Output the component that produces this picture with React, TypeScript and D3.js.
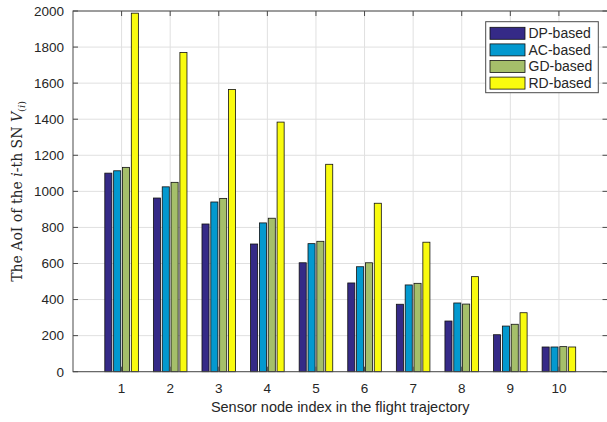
import React from "react";
import * as d3 from "d3";

const categories = [1, 2, 3, 4, 5, 6, 7, 8, 9, 10];
const seriesNames = ["DP-based", "AC-based", "GD-based", "RD-based"];
const dpValues = [1101, 963, 819, 708, 604, 492, 374, 281, 205, 137];
const acValues = [1114, 1025, 941, 825, 710, 582, 481, 381, 253, 137];
const gdValues = [1133, 1050, 961, 851, 723, 604, 490, 375, 263, 139];
const rdValues = [1988, 1770, 1565, 1384, 1150, 934, 718, 527, 327, 137];
const yTicks = [0, 200, 400, 600, 800, 1000, 1200, 1400, 1600, 1800, 2000];
const colors = ["#352a87", "#0399cf", "#a5bf6a", "#f9fb0e"];

const W = 607;
const H = 422;
const left = 73;
const right = 607.5;
const top = 11;
const bottom = 371.7;

export default function App() {
  const x = d3.scaleLinear().domain([0, 11]).range([left, right]);
  const y = d3.scaleLinear().domain([0, 2000]).range([bottom, top]);
  const unit = x(1) - x(0);
  const groupW = 0.7273 * unit;
  const inner = d3
    .scaleBand<string>()
    .domain(seriesNames)
    .range([-groupW / 2, groupW / 2])
    .paddingInner(0.2)
    .paddingOuter(0.1);
  const allSeries = [dpValues, acValues, gdValues, rdValues];
  const axisColor = "#4a4a4a";
  const textColor = "#262626";
  const sans = "'Liberation Sans', Arial, Helvetica, sans-serif";
  const serif = "'DejaVu Serif', 'Liberation Serif', serif";
  const tickLen = 5;

  return (
    <svg
      width={W}
      height={H}
      style={{ position: "absolute", left: 0, top: 0, background: "#fff" }}
    >
      <rect x={0} y={0} width={W} height={H} fill="#fff" />
      {/* grid */}
      {yTicks.map((t) => (
        <line key={"gy" + t} x1={left} x2={right} y1={y(t)} y2={y(t)} stroke="#e0e0e0" strokeWidth={1} />
      ))}
      {categories.map((c) => (
        <line key={"gx" + c} x1={x(c)} x2={x(c)} y1={top} y2={bottom} stroke="#e0e0e0" strokeWidth={1} />
      ))}
      {/* bars */}
      {categories.map((c, i) =>
        seriesNames.map((s, j) => {
          const v = allSeries[j][i];
          const bx = x(c) + (inner(s) as number);
          return (
            <rect
              key={c + s}
              x={bx}
              y={y(v)}
              width={inner.bandwidth()}
              height={y(0) - y(v)}
              fill={colors[j]}
              stroke="#111"
              strokeWidth={0.8}
            />
          );
        })
      )}
      {/* axes box */}
      <rect x={left} y={top} width={right - left} height={bottom - top} fill="none" stroke={axisColor} strokeWidth={1} />
      {yTicks.map((t) => (
        <g key={"ty" + t}>
          <line x1={left} x2={left + tickLen} y1={y(t)} y2={y(t)} stroke={axisColor} />
          <line x1={right - tickLen} x2={right} y1={y(t)} y2={y(t)} stroke={axisColor} />
          <text
            x={left - 9}
            y={y(t)}
            dy="0.36em"
            textAnchor="end"
            fontFamily={sans}
            fontSize={13.5}
            fill={textColor}
          >
            {t}
          </text>
        </g>
      ))}
      {categories.map((c) => (
        <g key={"tx" + c}>
          <line x1={x(c)} x2={x(c)} y1={bottom} y2={bottom - tickLen} stroke={axisColor} />
          <line x1={x(c)} x2={x(c)} y1={top} y2={top + tickLen} stroke={axisColor} />
          <text
            x={x(c)}
            y={bottom + 21}
            textAnchor="middle"
            fontFamily={sans}
            fontSize={13.5}
            fill={textColor}
          >
            {c}
          </text>
        </g>
      ))}
      {/* x label */}
      <text
        x={(left + right) / 2}
        y={412}
        textAnchor="middle"
        fontFamily={sans}
        fontSize={14.5}
        fill={textColor}
      >
        Sensor node index in the flight trajectory
      </text>
      {/* y label */}
      <text
        transform={`translate(${22},${(top + bottom) / 2}) rotate(-90)`}
        textAnchor="middle"
        fontFamily={serif}
        fontSize={14}
        fill={textColor}
      >
        <tspan>The AoI of the </tspan>
        <tspan fontStyle="italic">i</tspan>
        <tspan>-th SN </tspan>
        <tspan fontStyle="italic">V</tspan>
        <tspan fontSize={10} dy={3}>(</tspan>
        <tspan fontSize={10} fontStyle="italic">i</tspan>
        <tspan fontSize={10}>)</tspan>
      </text>
      {/* legend */}
      <g>
        <rect x={485.7} y={21.7} width={112.6} height={71} fill="#fff" stroke={axisColor} strokeWidth={1} />
        {seriesNames.map((s, j) => (
          <g key={"lg" + s}>
            <rect
              x={490}
              y={27.3 + j * 16.6}
              width={35}
              height={12}
              fill={colors[j]}
              stroke="#111"
              strokeWidth={0.8}
            />
            <text
              x={528.5}
              y={33.3 + j * 16.6}
              dy="0.35em"
              fontFamily={sans}
              fontSize={14}
              fill={textColor}
            >
              {s}
            </text>
          </g>
        ))}
      </g>
    </svg>
  );
}
